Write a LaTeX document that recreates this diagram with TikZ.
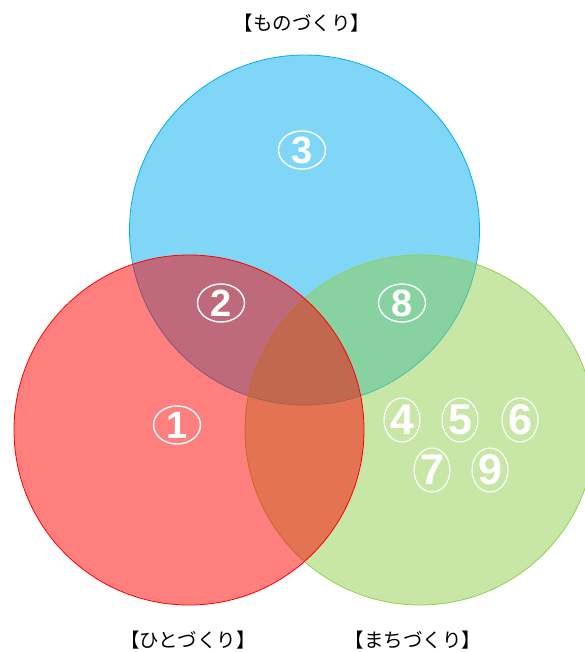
\documentclass[tikz,border=0pt]{standalone}
\usepackage{fontspec}
\usetikzlibrary{shapes.geometric}
\newfontfamily\jpfont{Noto Sans CJK JP}
\newfontfamily\numfont{Liberation Sans}
\definecolor{cblue}{RGB}{0,174,239}
\definecolor{cgreen}{RGB}{146,208,80}
\definecolor{cred}{RGB}{255,0,0}
\tikzset{
  setcircle/.style={fill opacity=0.5, line width=0.8pt},
  cnumA/.style={ellipse, draw=white, line width=1.4pt, minimum width=47pt, minimum height=38pt, inner sep=0pt, text=white, font=\numfont\bfseries\fontsize{38}{38}\selectfont},
  cnumB/.style={ellipse, draw=white, line width=1.1pt, minimum width=36pt, minimum height=44pt, inner sep=0pt, text=white, font=\numfont\bfseries\fontsize{43}{43}\selectfont},
  setlabel/.style={font=\jpfont\fontsize{19.5}{19.5}\selectfont, text=black, inner sep=0pt}
}
\begin{document}
\begin{tikzpicture}[x=1pt,y=-1pt]
\useasboundingbox (0,0) rectangle (585,652);
\clip (0,0) rectangle (585,652);
\fill[white] (0,0) rectangle (585,652);
\draw[setcircle, draw=cblue, fill=cblue] (304.5,230) circle[radius=175] coordinate (cb);
\draw[setcircle, draw=cgreen, fill=cgreen] (420,430) circle[radius=175] coordinate (cg);
\draw[setcircle, draw=cred, fill=cred] (189,430) circle[radius=175] coordinate (cr);
\node[cnumA] (n3) at (302,150) {3};
\node[cnumA] (n2) at (221,303) {2};
\node[cnumA] (n8) at (402,303) {8};
\node[cnumA] (n1) at (177,425) {1};
\node[cnumB] (n4) at (402,420) {4};
\node[cnumB] (n5) at (460,420) {5};
\node[cnumB] (n6) at (520,420) {6};
\node[cnumB] (n7) at (432,470) {7};
\node[cnumB] (n9) at (490,470) {9};
\node[setlabel] (lm) at (302,23) {【ものづくり】};
\node[setlabel] (lh) at (188,640) {【ひとづくり】};
\node[setlabel] (lc) at (413,640) {【まちづくり】};
\end{tikzpicture}
\end{document}
